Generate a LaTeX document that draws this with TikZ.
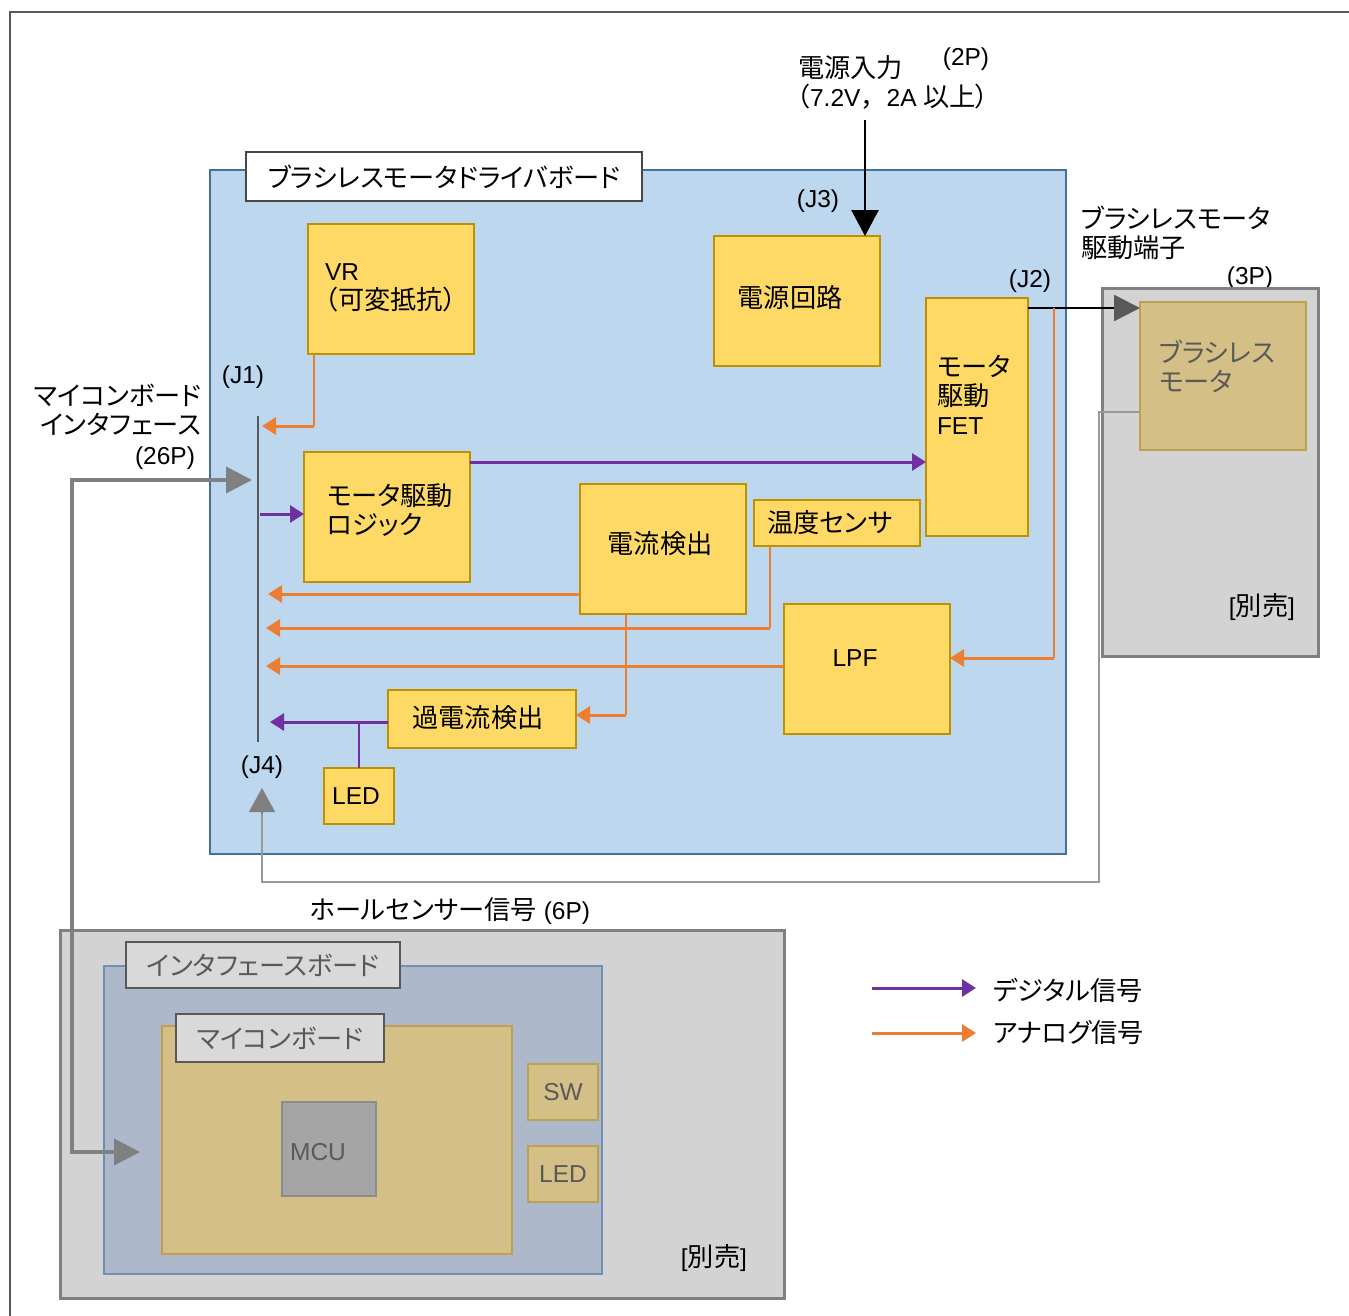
\documentclass[tikz,border=0pt]{standalone}
\usepackage{fontspec}
\setmainfont{Liberation Sans}
\newfontfamily\cjk[RawFeature=+palt,Scale=1.07]{Noto Sans CJK JP}
\newfontfamily\cjkfw[Scale=1.07]{Noto Sans CJK JP}
\usetikzlibrary{arrows.meta,calc,fit}
\definecolor{boardfill}{HTML}{BDD7EE}
\definecolor{boardline}{HTML}{41719C}
\definecolor{yfill}{HTML}{FFD966}
\definecolor{yline}{HTML}{BF9000}
\definecolor{tfill}{HTML}{D4BF86}
\definecolor{tline}{HTML}{BF9F50}
\definecolor{encfill}{HTML}{D3D3D3}
\definecolor{encline}{HTML}{808080}
\definecolor{iffill}{HTML}{ADB9CA}
\definecolor{ifline}{HTML}{6F8FB4}
\definecolor{ttlfill}{HTML}{D9D9D9}
\definecolor{dgray}{HTML}{595959}
\definecolor{mcufill}{HTML}{A5A5A5}
\definecolor{mculine}{HTML}{8C8C8C}
\definecolor{anac}{HTML}{ED7D31}
\definecolor{digc}{HTML}{7030A0}
\definecolor{hallc}{HTML}{999999}
\definecolor{garc}{HTML}{808080}
\begin{document}
\begin{tikzpicture}[x=1pt,y=-1pt,
  font=\fontsize{24.5}{29}\selectfont,
  every node/.style={inner sep=0pt,outer sep=0pt},
  box/.style={draw,line width=2.5pt,inner sep=0pt,outer sep=0pt},
  ybox/.style={box,draw=yline,fill=yfill},
  tbox/.style={box,draw=tline,fill=tfill},
  encbox/.style={box,draw=encline,fill=encfill,line width=3pt},
  ttlbox/.style={box,draw=dgray,fill=ttlfill,line width=1.5pt},
  txt/.style={inner sep=0pt,align=left},
  gtxt/.style={txt,text=dgray},
  anathick/.style={draw=anac,line width=3pt,-{Triangle[length=14pt,width=17pt]}},
  anathin/.style={draw=anac,line width=1.4pt},
  digthick/.style={draw=digc,line width=3pt,-{Triangle[length=14pt,width=17pt]}},
  digthin/.style={draw=digc,line width=1.4pt},
  bigtip/.style={-{Triangle[length=26pt,width=27pt]}}
]
\useasboundingbox (0,0) rectangle (1349,1315);
\fill[white] (0,0) rectangle (1349,1315);
% outer frame
\draw[dgray,line width=1.5pt] (10,1320) -- (10,12) -- (1355,12);

% main board
\node[box,draw=boardline,fill=boardfill,fit={(210,170) (1066,854)}] (board) {};
\node[ttlbox,draw=dgray!80!black,fill=white,fit={(246,152) (642,201)}] (bttl) {};
\node[txt] (bttlt) at (bttl.center) {\cjk ブラシレスモータドライバボード};

% blocks
\node[ybox,fit={(308,224) (474,354)}] (vr) {};
\node[txt,anchor=west] (vrt) at (325,288) {VR\\{\cjk （可変抵抗）}};
\node[ybox,fit={(714,236) (880,366)}] (psu) {};
\node[txt] (psut) at (790,298) {\cjk 電源回路};
\node[ybox,fit={(926,298) (1028,536)}] (fet) {};
\node[txt,anchor=west] (fett) at (937,395) {{\cjk モータ}\\{\cjk 駆動}\\FET};
\node[ybox,fit={(304,452) (470,582)}] (logic) {};
\node[txt,anchor=west] (logict) at (327,510) {{\cjk モータ駆動}\\{\cjk ロジック}};
\node[ybox,fit={(580,484) (746,614)}] (cur) {};
\node[txt] (curt) at (660,544) {\cjk 電流検出};
\node[ybox,fit={(754,500) (920,546)}] (temp) {};
\node[txt,anchor=west] (tempt) at (767,523) {\cjk 温度センサ};
\node[ybox,fit={(784,604) (950,734)}] (lpf) {};
\node[txt] (lpft) at (855,658) {LPF};
\node[ybox,fit={(388,690) (576,748)}] (ocd) {};
\node[txt] (ocdt) at (478,718) {\cjk 過電流検出};
\node[ybox,fit={(324,768) (394,824)}] (led1) {};
\node[txt] (led1t) at (356,796) {LED};

% bus
\coordinate (bustop) at (258,416);
\coordinate (busbot) at (258,742);
\draw[dgray,line width=1.8pt] (bustop) -- (busbot);

% labels
\node[txt] (j1) at (243,377) {(J1)};
\node[txt] (j4) at (262,767) {(J4)};
\node[txt] (j3) at (818,201) {(J3)};
\node[txt] (j2) at (1030,281) {(J2)};
\node[txt,anchor=west] (pwrl) at (798,68) {\cjk 電源入力};
\node[txt] (p2) at (966,59) {(2P)};
\node[txt,anchor=west] (pwrv) at (797,97) {{\cjk （}7.2V{\cjkfw ，}2A {\cjk 以上）}};
\node[txt,anchor=west] (mterm) at (1081,233) {{\cjk ブラシレスモータ}\\{\cjk 駆動端子}};
\node[txt] (p3) at (1250,278) {(3P)};
\node[txt,anchor=east,align=right] (mifl) at (201,410) {{\cjk マイコンボード}\\{\cjk インタフェース}};
\node[txt] (p26) at (165,458) {(26P)};
\node[txt] (halll) at (450,911) {{\cjk ホールセンサー信号} (6P)};

% motor enclosure
\node[encbox,fit={(1102,288) (1318,656)}] (menc) {};
\node[tbox,fit={(1140,302) (1306,450)}] (motor) {};
\node[gtxt,anchor=west] (motort) at (1159,366) {{\cjk ブラシレス}\\{\cjk モータ}};
\node[txt] (msold) at (1262,607) {[{\cjk 別売}]};

% interface enclosure
\node[encbox,fit={(60,930) (784,1298)}] (ienc) {};
\node[box,draw=ifline,fill=iffill,fit={(104,966) (602,1274)}] (ifb) {};
\node[ttlbox,fit={(126,942) (400,988)}] (ifttl) {};
\node[gtxt] (ifttlt) at (ifttl.center) {\cjk インタフェースボード};
\node[tbox,fit={(162,1026) (512,1254)}] (mcub) {};
\node[ttlbox,fit={(176,1014) (384,1062)}] (mcuttl) {};
\node[gtxt] (mcuttlt) at (mcuttl.center) {\cjk マイコンボード};
\node[box,draw=mculine,fill=mcufill,fit={(282,1102) (376,1196)}] (mcu) {};
\node[gtxt] (mcut) at (318,1152) {MCU};
\node[tbox,fit={(528,1064) (598,1120)}] (sw) {};
\node[gtxt] (swt) at (sw.center) {SW};
\node[tbox,fit={(528,1146) (598,1202)}] (led2) {};
\node[gtxt] (led2t) at (led2.center) {LED};
\node[txt] (isold) at (714,1258) {[{\cjk 別売}]};

% connectors
\coordinate (pin) at (865,120);
\draw[black,line width=2.5pt,bigtip] (pin) -- (pin |- psu.north);

\coordinate (fetout) at ($(fet.north east)+(0,10)$);
\draw[black,line width=2.5pt,-{Triangle[length=26pt,width=26pt,color=dgray]}] (fetout) -- (fetout -| motor.west);

\coordinate (bvr) at (262,426);
\coordinate (vrout) at ($(vr.south west)+(6,0)$);
\draw[anathin] (vrout) -- (vrout |- bvr);
\draw[anathick] (vrout |- bvr) -- (bvr);

\coordinate (blog) at (260,514);
\draw[digthick] (blog) -- (blog -| logic.west);

\coordinate (lgo) at ($(logic.north east)+(0,10)$);
\draw[digthick] (lgo) -- (lgo -| fet.west);

\coordinate (bcur) at (268,594);
\draw[anathick] (bcur -| cur.west) -- (bcur);

\coordinate (btemp) at (266,628);
\coordinate (tempout) at ($(temp.south west)+(16,0)$);
\draw[anathin] (tempout) -- (tempout |- btemp);
\draw[anathick] (tempout |- btemp) -- (btemp);

\coordinate (blpf) at (266,666);
\draw[anathick] (blpf -| lpf.west) -- (blpf);

\coordinate (fettap) at ($(fetout)+(26,0)$);
\coordinate (lpfin) at ($(lpf.east)+(0,-11)$);
\draw[anathin] (fettap) -- (fettap |- lpfin);
\draw[anathick] (fettap |- lpfin) -- (lpfin);

\coordinate (curout) at ($(cur.south west)+(46,0)$);
\coordinate (ocdin) at ($(ocd.east)+(0,-4)$);
\draw[anathin] (curout) -- (curout |- ocdin);
\draw[anathick] (curout |- ocdin) -- (ocdin);

\coordinate (bocd) at (270,722);
\draw[digthick] (bocd -| ocd.west) -- (bocd);
\draw[digthin] (led1.north |- bocd) -- (led1.north);

% hall sensor
\coordinate (hallsrc) at ($(motor.south west)+(0,-38)$);
\coordinate (j4in) at (262,788);
\draw[hallc,line width=1.3pt] (hallsrc) -- ++(-41,0) -- ++(0,470) -| ([yshift=-2pt]j4in);
\draw[garc,line width=1.3pt,-{Triangle[length=24pt,width=26pt,color=garc]}] (262,814) -- (j4in);

% microcomputer interface
\coordinate (b26) at (252,480);
\coordinate (ifin) at (140,1152);
\draw[garc,line width=4pt,{Triangle[length=26pt,width=26pt]}-{Triangle[length=26pt,width=26pt]}] (ifin) -- ++(-68,0) |- (b26);

% legend
\coordinate (lg1a) at (872,988);
\coordinate (lg1b) at (976,988);
\coordinate (lg2a) at (872,1033);
\coordinate (lg2b) at (976,1033);
\draw[digthick] (lg1a) -- (lg1b);
\draw[anathick] (lg2a) -- (lg2b);
\node[txt,anchor=west] (lgt1) at (993,990) {\cjk デジタル信号};
\node[txt,anchor=west] (lgt2) at (993,1033) {\cjk アナログ信号};
\end{tikzpicture}
\end{document}
